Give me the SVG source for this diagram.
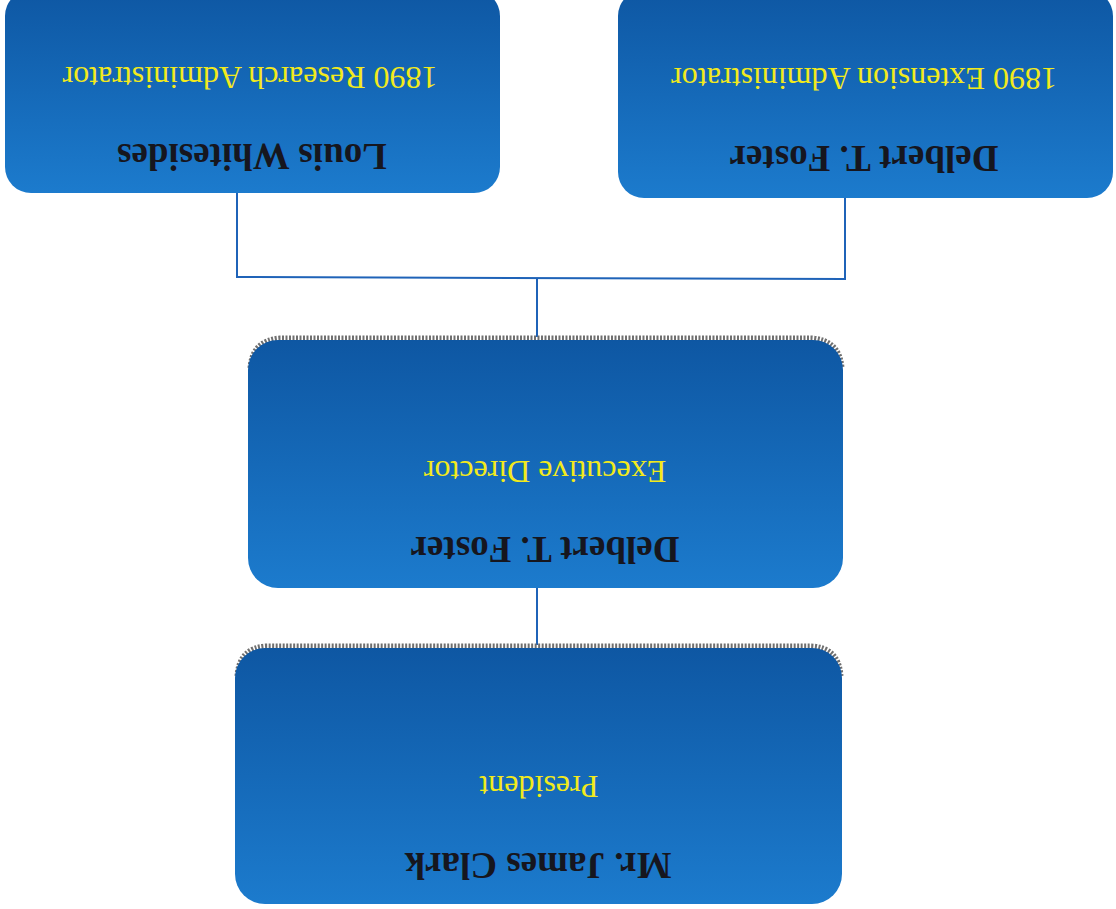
<svg xmlns="http://www.w3.org/2000/svg" width="1116" height="909" viewBox="0 0 1116 909">
<defs>
<linearGradient id="g" x1="0" y1="0" x2="0" y2="1">
<stop offset="0" stop-color="#0e57a3"/>
<stop offset="1" stop-color="#1c7bcd"/>
</linearGradient>
<style>
.box{fill:url(#g);}
.hat{fill:none;stroke:#6f6f6f;stroke-width:5;stroke-dasharray:2 1.5;}
.name{font-family:"Liberation Serif","Times New Roman",serif;font-weight:bold;font-size:37px;fill:#16161e;text-anchor:middle;}
.role{font-family:"Liberation Serif","Times New Roman",serif;font-size:32px;fill:#f2ea1c;text-anchor:middle;}
.conn{fill:none;stroke:#1f63b8;stroke-width:2;}
</style>
</defs>
<rect width="1116" height="909" fill="#ffffff"/>
<g id="connectors">
<path class="conn" d="M537 645 V588"/>
<path class="conn" d="M537 337 V278"/>
<path class="conn" d="M237 193 V277 L845 279 V198"/>
</g>
<g id="node-louis">
<rect class="box" x="5" y="-10" width="495" height="203" rx="26"/>
<text class="role" transform="translate(250 67) rotate(180)">1890 Research Administrator</text>
<text class="name" transform="translate(252 144) rotate(180)">Louis Whitesides</text>
</g>
<g id="node-foster-ext">
<rect class="box" x="618" y="-10" width="495" height="208" rx="26"/>
<text class="role" transform="translate(864 68) rotate(180)">1890 Extension Administrator</text>
<text class="name" transform="translate(864 146) rotate(180)">Delbert T. Foster</text>
</g>
<g id="node-foster-exec">
<path class="hat" d="M250 368 Q252 340 280 338 H812 Q840 340 842 368"/>
<rect class="box" x="248" y="340" width="595" height="248" rx="30"/>
<text class="role" transform="translate(545 461) rotate(180)">Executive Director</text>
<text class="name" transform="translate(545 537) rotate(180)">Delbert T. Foster</text>
</g>
<g id="node-clark">
<path class="hat" d="M237 676 Q239 647 267 646 H811 Q839 647 841 676"/>
<rect class="box" x="235" y="648" width="607" height="256" rx="30"/>
<text class="role" transform="translate(539 776) rotate(180)">President</text>
<text class="name" transform="translate(538 853) rotate(180)">Mr. James Clark</text>
</g>
</svg>
